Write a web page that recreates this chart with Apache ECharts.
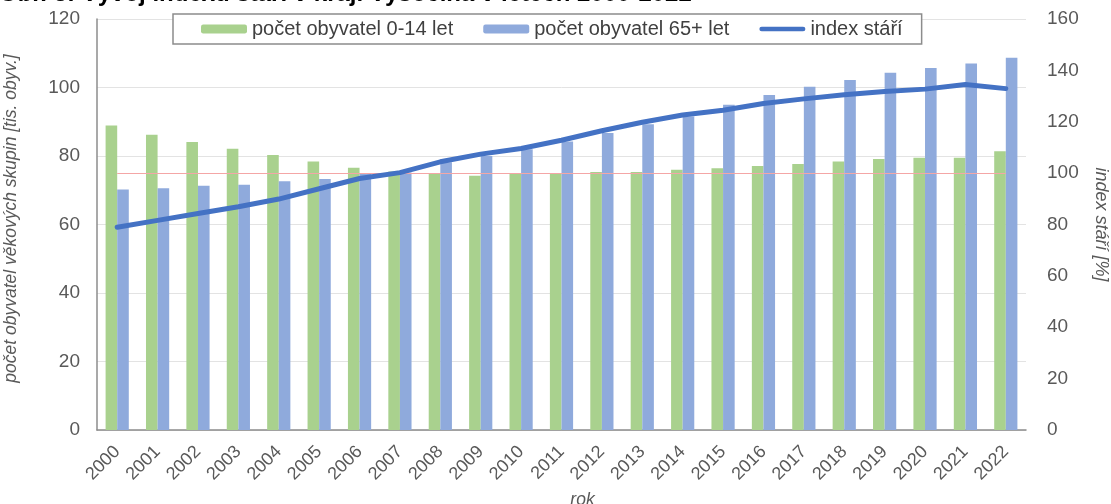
<!DOCTYPE html>
<html>
<head>
<meta charset="utf-8">
<script src="https://cdn.jsdelivr.net/npm/echarts@6/dist/echarts.min.js"></script>
<style>
html,body{margin:0;padding:0;background:#fff;}
#c{width:1111px;height:504px;}
</style>
</head>
<body>
<div id="c"></div>
<script>
const years = ['2000','2001','2002','2003','2004','2005','2006','2007','2008','2009','2010','2011','2012','2013','2014','2015','2016','2017','2018','2019','2020','2021','2022'];
const children0to14 = [88.9,86.2,84.1,82.1,80.3,78.4,76.6,75.5,74.8,74.2,74.8,74.9,75.3,75.3,76.0,76.4,77.1,77.7,78.4,79.1,79.5,79.5,81.4];
const seniors65plus = [70.2,70.6,71.3,71.6,72.6,73.3,74.8,75.2,78.2,80.0,82.0,84.2,86.7,89.3,91.5,95.0,97.8,100.2,102.2,104.3,105.7,107.0,108.7];
const ageingIndex = [78.9,81.6,84.3,86.9,89.9,93.9,97.9,100.2,104.4,107.4,109.6,112.8,116.5,119.8,122.6,124.5,127.1,128.9,130.5,131.8,132.7,134.5,132.9];
const referenceLevel = 100;
const leftTicks = {min:0, max:120, interval:20};
const rightTicks = {min:0, max:160, interval:20};

const FONT = 'Liberation Sans';
const chart = echarts.init(document.getElementById('c'), null, {renderer:'canvas'});
chart.setOption({
  animation:false,
  backgroundColor:'#ffffff',
  textStyle:{fontFamily:FONT},
  title:{
    text:'Obr. 3: Vývoj indexu stáří v kraji Vysočina v letech 2000-2022',
    left:-1, top:-17.5, padding:0,
    textStyle:{fontFamily:FONT, fontSize:24, fontWeight:'bold', color:'#000000'}
  },
  legend:{
    left:173, top:14,
    padding:[5,19,5,28],
    borderColor:'#8c8c8c', borderWidth:1.5,
    backgroundColor:'#ffffff',
    itemWidth:46, itemHeight:9, itemGap:30,
    symbolKeepAspect:true,
    textStyle:{fontFamily:FONT, fontSize:20, color:'#404040'},
    data:[
      'počet obyvatel 0-14 let',
      'počet obyvatel 65+ let',
      {name:'index stáří', icon:'path://M2.5,0 H48.5 A2.5,2.5 0 0 1 48.5,5 H2.5 A2.5,2.5 0 0 1 2.5,0 Z'}
    ]
  },
  grid:{left:97, right:85, top:19, bottom:74, containLabel:false, outerBoundsMode:'none'},
  xAxis:{
    type:'category', data:years,
    axisLine:{lineStyle:{color:'#8c8c8c', width:1.5}},
    axisTick:{show:false},
    axisLabel:{rotate:45, color:'#595959', fontSize:18, margin:19, interval:0},
    name:'rok', nameLocation:'middle', nameGap:60,
    nameTextStyle:{fontStyle:'italic', fontSize:17.5, color:'#595959', padding:[0,0,0,42]}
  },
  yAxis:[
    {
      type:'value', min:leftTicks.min, max:leftTicks.max, interval:leftTicks.interval,
      axisLine:{show:true, lineStyle:{color:'#8c8c8c', width:1.5}},
      axisTick:{show:false},
      splitLine:{lineStyle:{color:'#e3e3e3', width:1}},
      axisLabel:{color:'#595959', fontSize:19, margin:17},
      name:'počet obyvatel věkových skupin [tis. obyv.]', nameLocation:'middle', nameGap:77, nameRotate:90,
      nameTextStyle:{fontStyle:'italic', fontSize:17.5, color:'#595959', padding:[0,0,0,12]}
    },
    {
      type:'value', min:rightTicks.min, max:rightTicks.max, interval:rightTicks.interval,
      axisLine:{show:false}, axisTick:{show:false},
      splitLine:{show:false},
      axisLabel:{color:'#595959', fontSize:19, margin:21},
      name:'index stáří [%]', nameLocation:'middle', nameGap:66, nameRotate:-90,
      nameTextStyle:{fontStyle:'italic', fontSize:18, color:'#595959'}
    }
  ],
  series:[
    {
      name:'počet obyvatel 0-14 let', type:'bar', data:children0to14,
      barWidth:11.6, barGap:'0%',
      itemStyle:{color:'#a9d18e'}
    },
    {
      name:'počet obyvatel 65+ let', type:'bar', data:seniors65plus,
      barWidth:11.6, barGap:'0%',
      itemStyle:{color:'#8faadc'}
    },
    {
      name:'index stáří', type:'line', yAxisIndex:1, data:ageingIndex,
      symbol:'none', smooth:false, z:5,
      lineStyle:{color:'#4472c4', width:5, cap:'round', join:'round'},
      itemStyle:{color:'#4472c4'},
      markLine:{
        silent:true, symbol:'none', label:{show:false},
        lineStyle:{color:'#f4a6a6', width:1.2, type:'solid'},
        data:[[{coord:[years[0], referenceLevel]},{coord:[years[years.length-1], referenceLevel]}]]
      }
    }
  ]
});
</script>
</body>
</html>
